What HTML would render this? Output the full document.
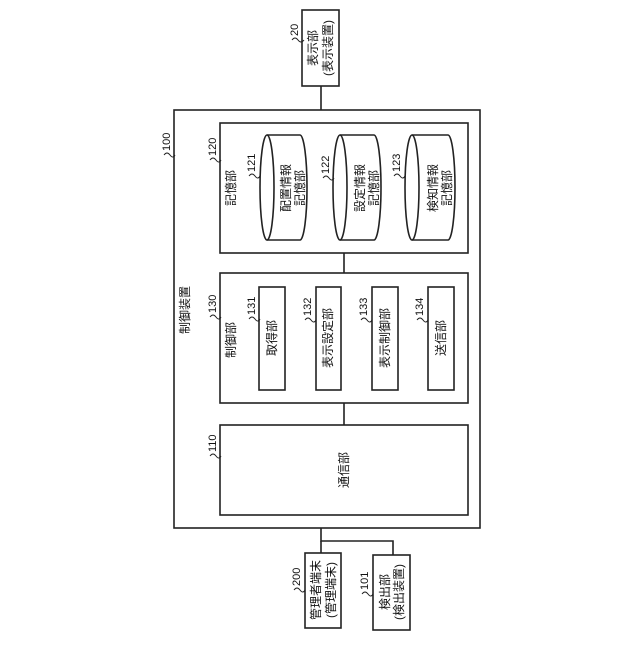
<!DOCTYPE html>
<html><head><meta charset="utf-8"><style>
html,body{margin:0;padding:0;background:#fff;}
svg text{font-family:"Liberation Sans","Noto Sans CJK JP",sans-serif;fill:#111;}
</style></head><body>
<svg width="640" height="640" viewBox="0 0 640 640" xmlns="http://www.w3.org/2000/svg">
<g fill="none" stroke="#222" stroke-width="1.6">
<rect x="302" y="10" width="37" height="76" fill="#fff"/>
<line x1="321" y1="86" x2="321" y2="110"/>
<rect x="174" y="110" width="306" height="418"/>
<rect x="220" y="123" width="248" height="130"/>
<line x1="344" y1="253" x2="344" y2="273"/>
<rect x="220" y="273" width="248" height="130"/>
<line x1="344" y1="403" x2="344" y2="425"/>
<rect x="220" y="425" width="248" height="90"/>
<polyline points="321,528 321,541 393,541 393,555"/>
<line x1="321" y1="541" x2="321" y2="553"/>
<rect x="305" y="553" width="36" height="75"/>
<rect x="373" y="555" width="37" height="75"/>
<path d="M267,135 L300,135 A7,52.5 0 0 1 300,240 L267,240"/>
<ellipse cx="267" cy="187.5" rx="7" ry="52.5"/>
<path d="M340,135 L374,135 A7,52.5 0 0 1 374,240 L340,240"/>
<ellipse cx="340" cy="187.5" rx="7" ry="52.5"/>
<path d="M412,135 L448,135 A7,52.5 0 0 1 448,240 L412,240"/>
<ellipse cx="412" cy="187.5" rx="7" ry="52.5"/>
<rect x="259" y="287" width="26" height="103"/>
<rect x="316" y="287" width="25" height="103"/>
<rect x="372" y="287" width="26" height="103"/>
<rect x="428" y="287" width="26" height="103"/>
</g>
<g font-size="12" text-anchor="middle" dominant-baseline="central">
<text transform="translate(313,48) rotate(-90)">表示部</text>
<text transform="translate(328,48) rotate(-90)">(表示装置)</text>
<text transform="translate(185,310) rotate(-90)">制御装置</text>
<text transform="translate(231,188) rotate(-90)">記憶部</text>
<text transform="translate(286,188) rotate(-90)">配置情報</text>
<text transform="translate(300,188) rotate(-90)">記憶部</text>
<text transform="translate(360,188) rotate(-90)">設定情報</text>
<text transform="translate(374,188) rotate(-90)">記憶部</text>
<text transform="translate(433,188) rotate(-90)">検知情報</text>
<text transform="translate(447,188) rotate(-90)">記憶部</text>
<text transform="translate(231,340) rotate(-90)">制御部</text>
<text transform="translate(272,338) rotate(-90)">取得部</text>
<text transform="translate(328,338) rotate(-90)">表示設定部</text>
<text transform="translate(385,338) rotate(-90)">表示制御部</text>
<text transform="translate(441,338) rotate(-90)">送信部</text>
<text transform="translate(344,470) rotate(-90)">通信部</text>
<text transform="translate(316,590) rotate(-90)">管理者端末</text>
<text transform="translate(331,590) rotate(-90)">(管理端末)</text>
<text transform="translate(385,592) rotate(-90)">検出部</text>
<text transform="translate(399,592) rotate(-90)">(検出装置)</text>
</g>
<g font-size="11" dominant-baseline="central">
<text transform="translate(295,36) rotate(-90)">20</text>
<text transform="translate(167,151) rotate(-90)">100</text>
<text transform="translate(213,156) rotate(-90)">120</text>
<text transform="translate(252,172) rotate(-90)">121</text>
<text transform="translate(326,174) rotate(-90)">122</text>
<text transform="translate(397,172) rotate(-90)">123</text>
<text transform="translate(213,313) rotate(-90)">130</text>
<text transform="translate(252,315) rotate(-90)">131</text>
<text transform="translate(308,316) rotate(-90)">132</text>
<text transform="translate(364,316) rotate(-90)">133</text>
<text transform="translate(420,316) rotate(-90)">134</text>
<text transform="translate(213,452) rotate(-90)">110</text>
<text transform="translate(297,586) rotate(-90)">200</text>
<text transform="translate(365,590) rotate(-90)">101</text>
</g>
<g fill="none" stroke="#222" stroke-width="1">
<path d="M292,40 q3,-4 6,0 t6,0"/>
<path d="M164,155 q3,-4 6,0 t5,0"/>
<path d="M210,160 q3,-4 6,0 t5,0"/>
<path d="M249,176 q3,-4 6,0 t5,0"/>
<path d="M323,178 q3,-4 6,0 t5,0"/>
<path d="M394,176 q3,-4 6,0 t5,0"/>
<path d="M210,317 q3,-4 6,0 t5,0"/>
<path d="M249,319 q3,-4 6,0 t5,0"/>
<path d="M305,320 q3,-4 6,0 t5,0"/>
<path d="M361,320 q3,-4 6,0 t5,0"/>
<path d="M417,320 q3,-4 6,0 t5,0"/>
<path d="M210,456 q3,-4 6,0 t5,0"/>
<path d="M294,590 q3,-4 6,0 t5,0"/>
<path d="M362,594 q3,-4 6,0 t5,0"/>
</g>
</svg>
</body></html>
